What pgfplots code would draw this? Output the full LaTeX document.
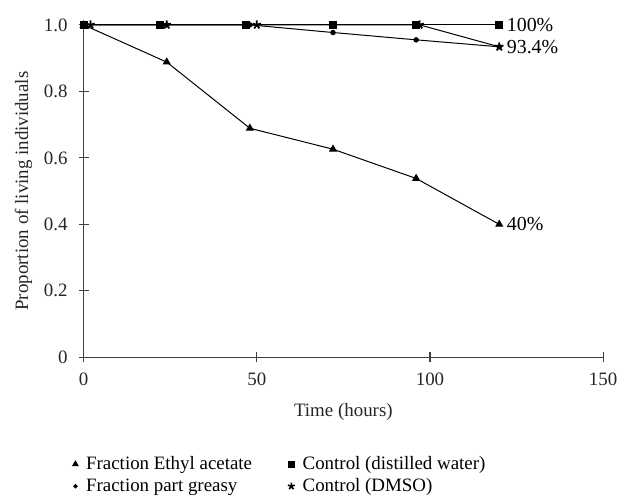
\documentclass[border=0pt]{standalone}
\usepackage{fontspec}
\setmainfont{Liberation Serif}
\usepackage{pgfplots}
\pgfplotsset{compat=1.18}

\begin{document}
\begin{tikzpicture}
\begin{axis}[
  scale only axis,
  width=261pt, height=167pt,
  xmin=0, xmax=150, ymin=0, ymax=1.0,
  axis x line=bottom, axis y line=left,
  axis line style={-, black!75, line width=0.7pt},
  every tick/.style={black!75, line width=0.6pt},
  tick align=center, major tick length=5pt,
  xtick={0,50,100,150},
  ytick={0,0.2,0.4,0.6,0.8,1.0},
  yticklabels={0,0.2,0.4,0.6,0.8,1.0},
  tick label style={font=\fontsize{9.5}{11}\selectfont, black!85},
  yticklabel style={xshift=-2pt},
  xticklabel style={yshift=-2pt},
  /pgf/number format/assume math mode=true,
  xlabel={Time (hours)},
  ylabel={Proportion of living individuals},
  label style={font=\fontsize{9.5}{11}\selectfont, black!85},
  xlabel style={yshift=-2pt},
  ylabel style={yshift=-1pt},
  clip=false,
  legend columns=2,
  legend style={draw=none, at={(0.38,-0.272)}, anchor=north,
    font=\fontsize{9.5}{11}\selectfont, row sep=-1pt,
    /tikz/every odd column/.append style={column sep=2pt},
    /tikz/every even column/.append style={column sep=16pt}},
  legend cell align=left,
]
\addlegendimage{only marks, mark=triangle*, mark size=1.6pt, black}
\addlegendentry{Fraction Ethyl acetate}
\addlegendimage{only marks, mark=square*, mark size=1.4pt, black}
\addlegendentry{Control (distilled water)}
\addlegendimage{only marks, mark=*, mark size=0.9pt, black}
\addlegendentry{Fraction part greasy}
\addlegendimage{only marks, mark=star, mark size=1.8pt, black, mark options={line width=0.8pt}}
\addlegendentry{Control (DMSO)}

% Fraction Ethyl acetate
\addplot[forget plot, black, line width=0.5pt, mark=triangle*, mark size=1.9pt]
  coordinates {(0,1.0)(24,0.888)(48,0.689)(72,0.626)(96,0.538)(120,0.40)};
% Fraction part greasy
\addplot[forget plot, black, line width=0.5pt, mark=*, mark size=1.1pt]
  coordinates {(0,1.0)(24,1.0)(48,1.0)(72,0.977)(96,0.955)(120,0.934)};
% Control (distilled water)
\addplot[forget plot, black, line width=0.5pt, mark=square*, mark size=1.8pt]
  coordinates {(0,1.0)(22,1.0)(47,1.0)(72,1.0)(96,1.0)(120,1.0)};
% Control (DMSO)
\addplot[forget plot, black, line width=0.5pt, mark=star, mark size=2.2pt, mark options={line width=0.9pt}]
  coordinates {(2,1.0)(24,1.0)(50,1.0)(97,1.0)(120,0.934)};

\node[anchor=west, font=\fontsize{10}{11}\selectfont, inner sep=1pt] at (axis cs:121.5,1.0) {100\%};
\node[anchor=west, font=\fontsize{10}{11}\selectfont, inner sep=1pt] at (axis cs:121.5,0.934) {93.4\%};
\node[anchor=west, font=\fontsize{10}{11}\selectfont, inner sep=1pt] at (axis cs:121.5,0.40) {40\%};

% white space as in the reference
\path (rel axis cs:0,1) ++(-42pt,12.5pt) coordinate (tl);
\end{axis}
\end{tikzpicture}
\end{document}
